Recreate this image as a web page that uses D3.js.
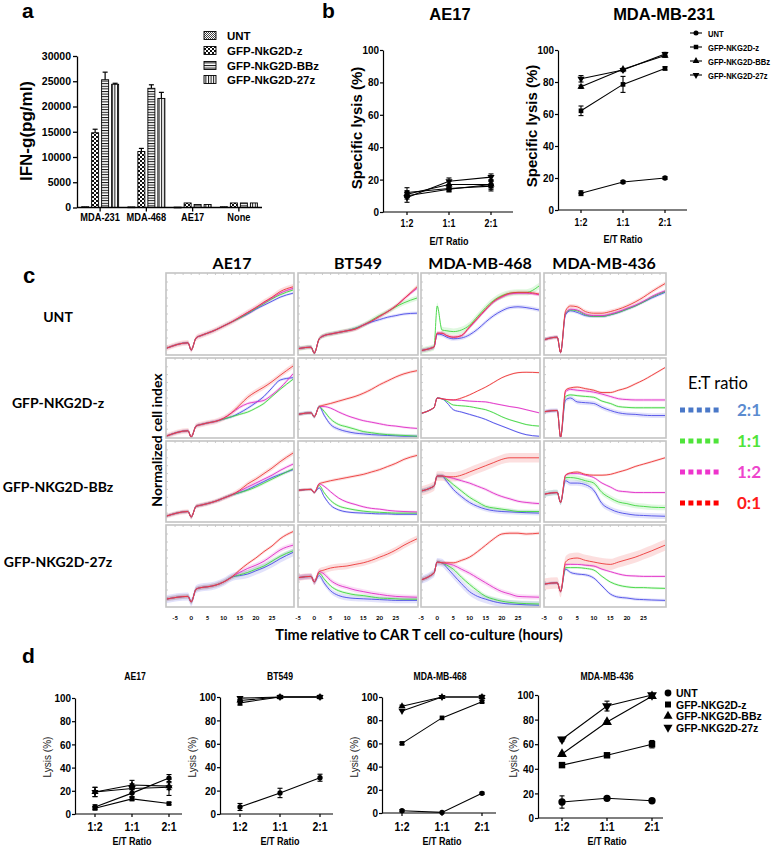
<!DOCTYPE html>
<html><head><meta charset="utf-8">
<script src="https://cdn.jsdelivr.net/npm/d3@7"></script>
<style>body{margin:0;background:#fff}svg{display:block}</style>
</head><body>
<script>
// ===================== DATA =====================
// ---- Panel a : IFN-g ----
const aCategories = ["MDA-231","MDA-468","AE17","None"];
const aSeriesNames = ["UNT","GFP-NkG2D-z","GFP-NkG2D-BBz","GFP-NkG2D-27z"];
const aUNT  = [150, 120, 80, 150];
const aZ    = [14800, 11100, 900, 900];
const aBBz  = [25300, 23600, 600, 900];
const a27z  = [24400, 21600, 600, 900];
const aZerr   = [700, 600, 0, 0];
const aBBzErr = [1500, 700, 0, 0];
const a27zErr = [200, 1200, 0, 0];
const aYTicks = [0,5000,10000,15000,20000,25000,30000];

// ---- Lysis panels (b, d) ----
const ratios = ["1:2","1:1","2:1"];
const bSeriesNames = ["UNT","GFP-NKG2D-z","GFP-NKG2D-BBz","GFP-NKG2D-27z"];
const lysisTicks = [0,20,40,60,80,100];
// b: AE17
const bAE17_UNT = [10, 14, 17],   bAE17_UNTerr = [2, 1.5, 2];
const bAE17_z   = [12, 14.5, 16], bAE17_zErr   = [3, 2, 3];
const bAE17_BBz = [11, 17, 17],   bAE17_BBzErr = [2, 2, 3];
const bAE17_27z = [9, 19, 21.5],  bAE17_27zErr = [3, 2, 2];
// b: MDA-MB-231
const b231_UNT = [10.5, 17.5, 20], b231_UNTerr = [1.5, 0.8, 0.8];
const b231_z   = [62, 78.5, 88.5], b231_zErr   = [3, 5, 1];
const b231_BBz = [77, 88, 96.5],   b231_BBzErr = [1, 0.5, 1];
const b231_27z = [82, 87.5, 97.5], b231_27zErr = [2, 1, 1];
// d: AE17
const dAE17_UNT = [6, 18, 31],  dAE17_UNTerr = [2, 3, 3];
const dAE17_z   = [5, 13, 9],   dAE17_zErr   = [1.5, 1.5, 1];
const dAE17_BBz = [19, 25, 24], dAE17_BBzErr = [4, 4, 3];
const dAE17_27z = [19, 22, 23], dAE17_27zErr = [4, 4, 7];
// d: BT549
const dBT_UNT = [6, 18, 31],    dBT_UNTerr = [3, 4, 3];
const dBT_z   = [95, 100, 100], dBT_zErr   = [2, 0, 0];
const dBT_BBz = [97, 100, 100], dBT_BBzErr = [1, 0, 0];
const dBT_27z = [99, 100, 100], dBT_27zErr = [1, 0, 0];
// d: MDA-MB-468
const d468_UNT = [2, 0.5, 17],   d468_UNTerr = [1, 0.5, 1];
const d468_z   = [60, 82, 96],   d468_zErr   = [1, 0.5, 1];
const d468_BBz = [92, 100, 100], d468_BBzErr = [1, 0, 0.5];
const d468_27z = [88, 100, 100], d468_27zErr = [0.5, 0, 1.5];
// d: MDA-MB-436
const d436_UNT = [13, 16, 14],  d436_UNTerr = [5, 1, 1];
const d436_z   = [43, 51, 60],  d436_zErr   = [1.5, 1, 3];
const d436_BBz = [52, 78, 99],  d436_BBzErr = [1, 1, 1];
const d436_27z = [64, 91, 100], d436_27zErr = [1.5, 4, 1];

// ---- Panel c : normalized cell index (arb. 0-10), series order: 2:1, 1:1, 1:2, 0:1 ----
const cCols = ["AE17","BT549","MDA-MB-468","MDA-MB-436"];
const cRows = ["UNT","GFP-NKG2D-z","GFP-NKG2D-BBz","GFP-NKG2D-27z"];
const cRatios = ["2:1","1:1","1:2","0:1"];
const cTime = [-7.8,-1,0,1.5,3,5,7.5,10,12.5,15,17.5,20,22.5,25,27.5,31.5];
const cTicks = [-5,0,5,10,15,20,25];

const cUNT_AE17 = [
 [0.7,1.4,0.5,2.0,2.3,2.6,3.0,3.5,4.0,4.5,5.0,5.6,6.1,6.6,7.1,7.6],
 [0.7,1.4,0.5,2.0,2.3,2.6,3.0,3.5,4.0,4.5,5.1,5.7,6.3,6.9,7.4,8.0],
 [0.7,1.4,0.5,2.0,2.3,2.6,3.0,3.5,4.0,4.6,5.2,5.8,6.4,7.0,7.6,8.2],
 [0.7,1.4,0.5,2.0,2.3,2.6,3.0,3.5,4.0,4.6,5.2,5.8,6.5,7.1,7.8,8.4]];
const cUNT_BT549 = [
 [0.4,0.85,0.1,1.9,2.3,2.5,2.7,2.9,3.2,3.6,4.0,4.3,4.6,4.8,5.0,5.1],
 [0.4,0.85,0.1,1.9,2.3,2.5,2.7,2.9,3.2,3.6,4.2,4.8,5.3,5.9,6.4,7.0],
 [0.4,0.85,0.1,1.9,2.3,2.5,2.7,2.9,3.1,3.6,4.1,4.7,5.3,6.0,6.9,8.2],
 [0.4,0.85,0.1,1.9,2.3,2.5,2.7,2.9,3.1,3.6,4.1,4.7,5.3,6.0,6.9,8.4]];
const cUNT_468 = [
 [0.3,0.85,2.5,2.4,2.1,1.9,2.0,2.4,3.1,4.0,4.8,5.4,5.8,5.9,5.8,5.5],
 [0.3,0.85,6.0,3.0,2.9,2.8,3.0,3.6,4.7,5.8,6.7,7.3,7.6,7.7,7.7,8.5],
 [0.3,0.85,2.6,2.6,2.3,2.1,2.3,3.3,4.4,5.5,6.5,7.1,7.5,7.6,7.6,7.4],
 [0.3,0.85,2.6,2.6,2.3,2.1,2.3,3.4,4.5,5.6,6.6,7.2,7.6,7.7,7.7,7.5]];
const cUNT_436 = [
 [1.3,2.1,0.2,4.9,5.4,5.2,4.8,4.7,4.7,4.9,5.2,5.6,6.0,6.5,7.0,7.7],
 [1.3,2.1,0.2,5.1,5.5,5.4,4.9,4.7,4.7,4.9,5.2,5.6,6.0,6.5,7.1,7.8],
 [1.3,2.1,0.2,5.1,5.6,5.5,5.0,4.8,4.8,5.0,5.3,5.7,6.1,6.6,7.2,7.9],
 [1.3,2.1,0.2,5.4,6.0,5.9,5.3,5.1,5.1,5.3,5.6,6.0,6.5,7.1,7.8,8.8]];
const cZ_AE17 = [
 [0.1,0.8,0.0,1.4,1.6,1.8,2.0,2.3,2.6,3.1,3.7,4.4,5.2,6.3,7.3,7.6],
 [0.1,0.8,0.0,1.4,1.6,1.8,2.0,2.3,2.6,2.9,3.2,3.7,4.3,5.2,6.1,7.4],
 [0.1,0.8,0.0,1.4,1.6,1.8,2.0,2.4,3.1,3.8,4.3,4.5,4.7,5.4,6.3,8.1],
 [0.1,0.8,0.0,1.4,1.6,1.8,2.0,2.4,3.1,4.1,5.1,5.8,6.4,7.1,7.9,9.1]];
const cZ_BT549 = [
 [2.6,3.1,2.6,3.9,2.8,1.6,1.0,0.7,0.5,0.4,0.3,0.25,0.2,0.15,0.1,0.1],
 [2.6,3.1,2.6,3.9,3.3,2.3,1.6,1.3,1.0,0.7,0.55,0.4,0.3,0.25,0.2,0.1],
 [2.6,3.1,2.6,3.9,3.9,3.7,3.2,2.75,2.4,2.1,1.9,1.7,1.5,1.4,1.25,1.1],
 [2.6,3.1,2.6,3.9,4.1,4.3,4.6,4.9,5.2,5.6,6.1,6.7,7.2,7.7,8.1,8.5]];
const cZ_468 = [
 [2.8,3.75,5.0,4.9,4.4,3.5,3.2,2.9,2.6,2.25,1.8,1.4,1.0,0.6,0.3,0.1],
 [2.8,3.75,5.0,4.9,4.6,4.1,4.0,3.9,3.7,3.5,3.1,2.6,2.2,1.9,1.6,1.4],
 [2.8,3.75,5.0,4.9,4.8,4.75,4.7,4.6,4.55,4.5,4.3,4.1,3.9,3.75,3.5,3.1],
 [2.8,3.75,5.0,4.9,4.8,4.75,5.0,5.4,5.9,6.4,7.0,7.6,8.0,8.25,8.3,8.25]];
const cZ_436 = [
 [3.0,3.4,0.0,4.75,5.0,4.5,4.4,4.3,3.8,3.4,3.1,2.95,2.9,2.8,2.75,2.75],
 [3.0,3.4,0.0,5.2,5.4,5.3,5.2,5.1,4.6,4.3,3.9,3.8,3.75,3.75,3.75,3.75],
 [3.0,3.4,0.0,5.8,6.1,6.0,5.9,5.75,5.5,5.2,4.9,4.8,4.75,4.75,4.75,4.75],
 [3.0,3.4,0.0,6.0,6.3,6.4,6.2,6.0,5.7,5.7,6.0,6.3,6.8,7.3,7.9,8.9]];
const cBBz_AE17 = [
 [0.6,1.2,0.5,1.85,2.0,2.2,2.5,2.9,3.3,3.6,4.0,4.5,5.0,5.5,5.9,6.5],
 [0.6,1.2,0.5,1.85,2.0,2.2,2.5,2.9,3.3,3.6,3.9,4.3,4.8,5.3,5.8,6.6],
 [0.6,1.2,0.5,1.85,2.0,2.2,2.5,2.9,3.3,3.8,4.3,4.8,5.3,5.8,6.4,7.2],
 [0.6,1.2,0.5,1.85,2.0,2.2,2.5,2.9,3.3,3.9,4.7,5.3,6.0,6.7,7.5,8.6]];
const cBBz_BT549 = [
 [3.7,4.0,3.6,4.2,3.1,2.0,1.4,1.15,1.05,1.0,0.95,0.9,0.9,0.85,0.85,0.85],
 [3.7,4.0,3.6,4.5,3.6,2.6,1.9,1.6,1.4,1.25,1.15,1.1,1.05,1.0,1.0,1.0],
 [3.7,4.0,3.6,4.7,4.4,3.7,2.9,2.4,2.1,1.8,1.6,1.5,1.35,1.25,1.2,1.15],
 [3.7,4.0,3.6,4.7,4.9,5.1,5.3,5.5,5.7,5.9,6.2,6.5,6.9,7.3,7.8,8.3]];
const cBBz_468 = [
 [3.6,4.4,5.7,5.7,5.0,4.0,3.1,2.35,1.85,1.5,1.3,1.2,1.15,1.1,1.05,1.0],
 [3.6,4.4,5.7,5.7,5.3,4.6,3.8,3.0,2.4,1.85,1.65,1.5,1.35,1.2,1.2,1.2],
 [3.6,4.4,5.7,5.7,5.6,5.4,5.1,4.8,4.4,4.0,3.5,3.1,2.8,2.5,2.35,2.2],
 [3.6,4.4,5.7,5.7,5.6,5.6,5.8,6.2,6.6,7.0,7.4,7.8,8.0,8.0,8.0,8.0]];
const cBBz_436 = [
 [3.1,3.6,2.35,5.1,4.8,4.8,4.6,3.9,2.2,1.5,1.1,0.9,0.75,0.7,0.65,0.6],
 [3.1,3.6,2.35,5.5,5.5,5.4,5.1,4.8,3.6,2.9,2.4,2.2,1.95,1.85,1.75,1.7],
 [3.1,3.6,2.35,5.8,6.0,6.0,5.8,5.5,4.8,4.3,3.8,3.7,3.6,3.6,3.6,3.6],
 [3.1,3.6,2.35,5.8,6.1,6.2,5.9,5.8,5.8,5.9,6.2,6.5,6.9,7.2,7.5,8.0]];
const c27z_AE17 = [
 [0.85,1.2,0.5,2.1,2.3,2.4,2.6,3.0,3.6,3.8,4.0,4.4,4.8,5.3,5.9,6.7],
 [0.85,1.2,0.5,2.1,2.3,2.4,2.6,3.0,3.6,3.9,4.2,4.6,5.0,5.6,6.2,6.9],
 [0.85,1.2,0.5,2.1,2.3,2.4,2.6,3.0,3.6,4.2,4.7,5.1,5.6,6.3,7.0,7.6],
 [0.85,1.2,0.5,2.1,2.3,2.4,2.6,3.0,3.6,4.5,5.3,6.0,6.8,7.5,8.4,9.3]];
const c27z_BT549 = [
 [3.3,3.7,3.0,3.8,2.9,1.9,1.3,1.05,0.95,0.9,0.85,0.8,0.75,0.7,0.7,0.7],
 [3.3,3.7,3.0,4.1,3.4,2.5,1.9,1.6,1.4,1.3,1.15,1.0,0.95,0.9,0.85,0.85],
 [3.3,3.7,3.0,4.3,4.0,3.2,2.6,2.3,2.0,1.8,1.6,1.45,1.3,1.2,1.15,1.1],
 [3.3,3.7,3.0,4.3,4.5,4.75,4.9,5.0,5.2,5.4,5.7,6.1,6.5,7.0,7.6,8.4]];
const c27z_468 = [
 [3.0,4.1,5.5,5.4,4.8,3.9,2.8,1.8,1.2,0.85,0.55,0.35,0.25,0.2,0.15,0.1],
 [3.0,4.1,5.5,5.4,5.1,4.6,3.6,2.7,1.9,1.2,0.85,0.6,0.45,0.35,0.3,0.25],
 [3.0,4.1,5.5,5.4,5.3,5.1,4.6,4.1,3.5,2.9,2.3,1.8,1.5,1.2,1.15,1.1],
 [3.0,4.1,5.5,5.4,5.4,5.4,5.7,6.1,6.8,7.6,8.4,9.0,9.1,9.1,9.0,9.1]];
const c27z_436 = [
 [2.5,2.9,1.8,4.6,4.2,4.0,3.9,3.5,2.5,1.5,1.1,1.0,0.85,0.8,0.75,0.7],
 [2.5,2.9,1.8,4.8,4.8,4.8,4.7,4.5,3.7,3.0,2.6,2.4,2.3,2.3,2.25,2.2],
 [2.5,2.9,1.8,5.2,5.2,5.2,5.1,5.0,4.6,4.3,4.0,3.8,3.75,3.7,3.7,3.7],
 [2.5,2.9,1.8,5.5,5.9,6.0,5.7,5.5,5.3,5.2,5.5,5.8,6.1,6.5,6.9,7.6]];
// band half-widths per panel [2:1, 1:1, 1:2, 0:1]
const cErrUNT  = [[0.15,0.15,0.2,0.35],[0.2,0.3,0.2,0.25],[0.25,0.4,0.2,0.25],[0.2,0.15,0.2,0.25]];
const cErrZ    = [[0.2,0.15,0.2,0.35],[0.25,0.2,0.15,0.2],[0.1,0.1,0.1,0.1],[0.3,0.15,0.2,0.15]];
const cErrBBz  = [[0.2,0.2,0.2,0.3],[0.15,0.15,0.15,0.2],[0.3,0.25,0.2,0.6],[0.35,0.35,0.15,0.15]];
const cErr27z  = [[0.5,0.3,0.3,0.2],[0.35,0.2,0.3,0.4],[0.5,0.3,0.3,0.2],[0.2,0.15,0.15,0.7]];

// ===================== DRAW =====================
const FA = "'Liberation Sans', Arial, sans-serif";
const FC = "Lato, 'Open Sans', sans-serif";
const svg = d3.select("body").append("svg").attr("width",778).attr("height",845)
  .attr("font-family", FA);
const defs = svg.append("defs");

// condense text horizontally (narrow typeface look) for axis labels
function narrow(sel, f) {
  sel.each(function () {
    const w = this.getComputedTextLength();
    d3.select(this).attr("textLength", w * f).attr("lengthAdjust", "spacingAndGlyphs");
  });
  return sel;
}
function txt(x, y, s, size, opts = {}) {
  const sx = opts.scaleX || 1;
  const tr = `translate(${x},${y})` + (opts.rotate ? " rotate(-90)" : "") + (sx !== 1 ? ` scale(${sx},1)` : "");
  return svg.append("text").attr("x", 0).attr("y", 0).attr("transform", tr).text(s)
    .attr("font-size", size).attr("font-weight", opts.weight || "bold")
    .attr("font-family", opts.family || FA)
    .attr("text-anchor", opts.anchor || "start")
    .attr("fill", opts.fill || "#000");
}

// ---------- patterns (panel a) ----------
function pattern(id, w, h, build) {
  const p = defs.append("pattern").attr("id", id).attr("patternUnits","userSpaceOnUse")
    .attr("width", w).attr("height", h);
  p.append("rect").attr("width", w).attr("height", h).attr("fill", "#fff");
  build(p);
}
pattern("pUNT", 2, 2, p => {
  p.append("rect").attr("width",1).attr("height",1).attr("fill","#444");
  p.append("rect").attr("x",1).attr("y",1).attr("width",1).attr("height",1).attr("fill","#444");
});
pattern("pZ", 4, 4, p => {
  p.append("rect").attr("width",2).attr("height",2).attr("fill","#111");
  p.append("rect").attr("x",2).attr("y",2).attr("width",2).attr("height",2).attr("fill","#111");
});
pattern("pBBz", 3, 2.6, p => p.append("rect").attr("width",3).attr("height",1).attr("fill","#111"));
pattern("p27z", 2.6, 3, p => p.append("rect").attr("width",1).attr("height",3).attr("fill","#111"));
const aPatterns = ["url(#pUNT)","url(#pZ)","url(#pBBz)","url(#p27z)"];

// ---------- Panel a ----------
txt(22, 18, "a", 21);
const aX0 = d3.scaleBand().domain(aCategories).range([77, 262]).paddingInner(0.2).paddingOuter(0.1);
const aX1 = d3.scaleBand().domain(aSeriesNames).range([0, aX0.bandwidth()]).paddingInner(0.3);
const aY = d3.scaleLinear().domain([0, 30000]).range([207.5, 56]);
const aVals = [aUNT, aZ, aBBz, a27z];
const aErrs = [[0,0,0,0], aZerr, aBBzErr, a27zErr];
const ag = svg.append("g");
aSeriesNames.forEach((s, i) => {
  aCategories.forEach((c, j) => {
    const v = aVals[i][j], e = aErrs[i][j];
    const x = aX0(c) + aX1(s), w = aX1.bandwidth();
    ag.append("rect").attr("x", x).attr("y", aY(v)).attr("width", w)
      .attr("height", Math.max(0.8, aY(0) - aY(v)))
      .attr("fill", aPatterns[i]).attr("stroke", "#000").attr("stroke-width", 0.9);
    if (e > 0) {
      const cx = x + w / 2;
      ag.append("line").attr("x1", cx).attr("x2", cx).attr("y1", aY(v)).attr("y2", aY(v + e)).attr("stroke","#000").attr("stroke-width",1.2);
      ag.append("line").attr("x1", cx - 2.5).attr("x2", cx + 2.5).attr("y1", aY(v + e)).attr("y2", aY(v + e)).attr("stroke","#000").attr("stroke-width",1.2);
    }
  });
});
const aYAxis = svg.append("g").attr("transform","translate(77,0)")
  .call(d3.axisLeft(aY).tickValues(aYTicks).tickSize(4).tickSizeOuter(0).tickPadding(2).tickFormat(d3.format("d")));
aYAxis.selectAll("text").attr("font-size", 10.5).attr("font-weight","bold").attr("font-family", FA).attr("fill","#000");
aYAxis.selectAll("path,line").attr("stroke","#000").attr("stroke-width",1.3);
const aXAxis = svg.append("g").attr("transform","translate(0,207.5)")
  .call(d3.axisBottom(aX0).tickSize(4).tickSizeOuter(0).tickPadding(2));
aXAxis.select(".domain").attr("d", "M77,0H262");
aXAxis.selectAll("text").attr("font-size", 10.5).attr("font-weight","bold").attr("font-family", FA).attr("fill","#000");
narrow(aXAxis.selectAll("text"), 0.88);
aXAxis.selectAll("path,line").attr("stroke","#000").attr("stroke-width",1.3);
txt(32, 131, "IFN-g(pg/ml)", 17, {anchor:"middle", rotate:true});
// legend a
const aLegY = [36, 51, 66, 80];
aSeriesNames.forEach((s, i) => {
  svg.append("rect").attr("x", 204).attr("y", aLegY[i] - 4.5).attr("width", 12).attr("height", 8)
    .attr("fill", aPatterns[i]).attr("stroke", "#000").attr("stroke-width", 0.9);
  txt(227, aLegY[i] + 4, s, 11.5);
});

// ---------- Lysis chart helper (b, d) ----------
const symbols = [d3.symbolCircle, d3.symbolSquare, d3.symbolTriangle, d3.symbolTriangle];
function marker(g, x, y, i, size) {
  g.append("path").attr("d", d3.symbol(symbols[i], size)())
    .attr("transform", `translate(${x},${y})${i === 3 ? " rotate(180)" : ""}`)
    .attr("fill", "#000");
}
function lysisPlot(cfg) {
  const g = svg.append("g");
  const y = d3.scaleLinear().domain([0, 100]).range([cfg.y0, cfg.y100]);
  const x = d3.scalePoint().domain(ratios).range(cfg.xr);
  const ya = g.append("g").attr("transform", `translate(${cfg.ax},0)`)
    .call(d3.axisLeft(y).tickValues(lysisTicks).tickSize(3).tickSizeOuter(0).tickPadding(1));
  ya.selectAll("text").attr("font-size", cfg.yfs).attr("font-weight","bold").attr("font-family", FA).attr("fill","#000");
  narrow(ya.selectAll("text"), cfg.yn);
  ya.selectAll("path,line").attr("stroke","#000").attr("stroke-width",1.2);
  g.append("line").attr("x1", cfg.ax).attr("x2", cfg.xEnd).attr("y1", cfg.y0).attr("y2", cfg.y0)
    .attr("stroke","#000").attr("stroke-width",1.2);
  ratios.forEach(r => {
    g.append("line").attr("x1", x(r)).attr("x2", x(r)).attr("y1", cfg.y0).attr("y2", cfg.y0 + 3)
      .attr("stroke","#000").attr("stroke-width",1.2);
    const t = g.append("text").attr("x", x(r)).attr("y", cfg.xlabY).attr("text-anchor","middle").text(r)
      .attr("font-size", cfg.xfs).attr("font-weight","bold").attr("font-family", FA);
    narrow(t, 0.84);
  });
  const et = g.append("text").attr("x", (cfg.xr[0] + cfg.xr[1]) / 2).attr("y", cfg.etY).attr("text-anchor","middle")
    .text("E/T Ratio").attr("font-size", cfg.etfs).attr("font-weight","bold").attr("font-family", FA);
  narrow(et, 0.86);
  const line = d3.line().x((d, k) => x(ratios[k])).y(d => y(d));
  cfg.series.forEach((s, i) => {
    g.append("path").attr("d", line(s.v)).attr("fill","none").attr("stroke", "#000").attr("stroke-width", 1.1);
  });
  cfg.series.forEach((s, i) => {
    s.v.forEach((v, k) => {
      const e = s.e[k], cx = x(ratios[k]);
      if (e > 0.6) {
        g.append("line").attr("x1", cx).attr("x2", cx).attr("y1", y(Math.max(0, v - e))).attr("y2", y(v + e)).attr("stroke","#000").attr("stroke-width",1.1);
        [v - e, v + e].forEach(b => g.append("line").attr("x1", cx - 2.5).attr("x2", cx + 2.5)
          .attr("y1", y(Math.max(0, b))).attr("y2", y(Math.max(0, b))).attr("stroke","#000").attr("stroke-width",1.1));
      }
      marker(g, cx, y(v), i, cfg.ms);
    });
  });
}

// ---------- Panel b ----------
txt(322, 18, "b", 21);
txt(450, 20, "AE17", 16.5, {anchor:"middle"});
txt(664, 20, "MDA-MB-231", 16.5, {anchor:"middle"});
const bCommon = {yfs: 11, yn: 0.9, xfs: 10.5, etfs: 10.5, ms: 22};
lysisPlot(Object.assign({}, bCommon, {ax: 383, y0: 212, y100: 50, xr: [407, 491], xEnd: 513, xlabY: 227, etY: 245,
  series: [{v:bAE17_UNT,e:bAE17_UNTerr},{v:bAE17_z,e:bAE17_zErr},{v:bAE17_BBz,e:bAE17_BBzErr},{v:bAE17_27z,e:bAE17_27zErr}]}));
lysisPlot(Object.assign({}, bCommon, {ax: 558, y0: 210, y100: 50, xr: [581, 665], xEnd: 687, xlabY: 226, etY: 243,
  series: [{v:b231_UNT,e:b231_UNTerr},{v:b231_z,e:b231_zErr},{v:b231_BBz,e:b231_BBzErr},{v:b231_27z,e:b231_27zErr}]}));
txt(362, 128, "Specific lysis (%)", 15, {anchor:"middle", rotate:true});
txt(537, 126, "Specific lysis (%)", 15, {anchor:"middle", rotate:true});
const bLegY = [33, 47, 61, 75];
bSeriesNames.forEach((s, i) => {
  svg.append("line").attr("x1", 690).attr("x2", 702).attr("y1", bLegY[i]).attr("y2", bLegY[i]).attr("stroke","#000").attr("stroke-width",1.1);
  marker(svg, 696, bLegY[i], i, 20);
  txt(708, bLegY[i] + 3.5, s, 9.5, {scaleX: 0.8});
});

// ---------- Panel c ----------
txt(23, 283, "c", 22);
const cColX0 = [166, 298, 421, 544], cColX1 = [294, 418, 540, 666];
const cRowY0 = [273, 358, 441, 525], cRowY1 = [355, 438, 522, 607];
const cColTitleX = [232, 358, 480, 604];
const cRowLabelY = [322, 408, 492, 567];
const cColors = ["#4b4be8", "#3fd63f", "#e02cc6", "#ec3838"];
const cPanels = [
  [cUNT_AE17, cUNT_BT549, cUNT_468, cUNT_436],
  [cZ_AE17, cZ_BT549, cZ_468, cZ_436],
  [cBBz_AE17, cBBz_BT549, cBBz_468, cBBz_436],
  [c27z_AE17, c27z_BT549, c27z_468, c27z_436]];
const cErrs = [cErrUNT, cErrZ, cErrBBz, cErr27z];
cCols.forEach((c, j) => txt(cColTitleX[j], 269, c, 16, {family: FC, anchor:"middle"}));
cRows.forEach((r, i) => txt(58, cRowLabelY[i], r, 14, {family: FC, anchor:"middle"}));
txt(162, 440, "Normalized cell index", 14, {family: FC, anchor:"middle", rotate:true});
txt(419, 640, "Time relative to CAR T cell co-culture (hours)", 14.5, {family: FC, anchor:"middle"});
cRows.forEach((r, i) => {
  cCols.forEach((c, j) => {
    const x0 = cColX0[j], x1 = cColX1[j], y0 = cRowY0[i], y1 = cRowY1[i];
    const xs = d3.scaleLinear().domain([j === 0 ? -7.8 : -5, 31.8]).range([x0, x1]);
    const ys = d3.scaleLinear().domain([0, 10]).range([y1 - 1, y0 + 1]);
    const id = `clip${i}${j}`;
    defs.append("clipPath").attr("id", id).append("rect").attr("x", x0).attr("y", y0).attr("width", x1 - x0).attr("height", y1 - y0);
    const g = svg.append("g");
    g.append("rect").attr("x", x0).attr("y", y0).attr("width", x1 - x0).attr("height", y1 - y0).attr("fill","#fff");
    d3.range(-5, 31, 2.5).forEach(t => {
      if (xs(t) > x0 + 1) g.append("line").attr("x1", xs(t)).attr("x2", xs(t)).attr("y1", y0).attr("y2", y0 + 2).attr("stroke","#aaa").attr("stroke-width",0.6);
    });
    d3.range(1, 10, 1).forEach(v => {
      g.append("line").attr("x1", x0).attr("x2", x0 + 2).attr("y1", ys(v)).attr("y2", ys(v)).attr("stroke","#aaa").attr("stroke-width",0.6);
    });
    const pg = g.append("g").attr("clip-path", `url(#${id})`);
    const series = cPanels[i][j], errs = cErrs[i][j];
    series.forEach((vals, k) => {
      const e = errs[k];
      const area = d3.area().x((d, n) => xs(cTime[n])).y0(d => ys(d - e)).y1(d => ys(d + e)).curve(d3.curveMonotoneX);
      pg.append("path").attr("d", area(vals)).attr("fill", cColors[k]).attr("fill-opacity", 0.16);
    });
    series.forEach((vals, k) => {
      const line = d3.line().x((d, n) => xs(cTime[n])).y(d => ys(d)).curve(d3.curveMonotoneX);
      pg.append("path").attr("d", line(vals)).attr("fill","none").attr("stroke", cColors[k]).attr("stroke-width", 0.9);
    });
    g.append("rect").attr("x", x0).attr("y", y0).attr("width", x1 - x0).attr("height", y1 - y0)
      .attr("fill","none").attr("stroke","#c4c4c4").attr("stroke-width",1.6);
    if (i === 3) {
      cTicks.forEach(t => {
        g.append("text").attr("x", xs(t)).attr("y", 620).attr("text-anchor","middle").text(t)
          .attr("font-size", 6).attr("font-weight","bold").attr("font-family", FC);
      });
    }
  });
});
// legend c
txt(688, 389, "E:T ratio", 16.5, {family: FC, weight: "normal"});
const cLegY = [410, 441, 472, 503];
const cLegTextColors = ["#5b8bd0", "#4fe43a", "#ee44cc", "#ff1a1a"];
const cLegMarkColors = ["#4a78c8", "#4fe43a", "#ee33cc", "#ff0000"];
cRatios.forEach((r, k) => {
  d3.range(5).forEach(m => svg.append("rect").attr("x", 680 + m * 8.4).attr("y", cLegY[k] - 2.5)
    .attr("width", 5).attr("height", 5).attr("fill", cLegMarkColors[k]));
  txt(737, cLegY[k] + 6, r, 17, {family: FC, fill: cLegTextColors[k]});
});

// ---------- Panel d ----------
txt(22, 663, "d", 21);
const dTitles = ["AE17","BT549","MDA-MB-468","MDA-MB-436"];
const dTitleX = [135, 280, 440, 607];
dTitles.forEach((t, i) => txt(dTitleX[i], 680, t, 10.5, {anchor:"middle", scaleX: 0.82}));
const dCommon = {yfs: 11.5, yn: 0.86, xfs: 12.5, etfs: 10.5, xlabY: 831, etY: 844.5};
lysisPlot(Object.assign({}, dCommon, {ax: 75, y0: 814, y100: 698, xr: [95, 169], xEnd: 182, ms: 22,
  series: [{v:dAE17_UNT,e:dAE17_UNTerr},{v:dAE17_z,e:dAE17_zErr},{v:dAE17_BBz,e:dAE17_BBzErr},{v:dAE17_27z,e:dAE17_27zErr}]}));
lysisPlot(Object.assign({}, dCommon, {ax: 220, y0: 814, y100: 697, xr: [240, 320], xEnd: 333, ms: 22,
  series: [{v:dBT_UNT,e:dBT_UNTerr},{v:dBT_z,e:dBT_zErr},{v:dBT_BBz,e:dBT_BBzErr},{v:dBT_27z,e:dBT_27zErr}]}));
lysisPlot(Object.assign({}, dCommon, {ax: 382, y0: 813, y100: 697, xr: [402, 482], xEnd: 496, ms: 22,
  series: [{v:d468_UNT,e:d468_UNTerr},{v:d468_z,e:d468_zErr},{v:d468_BBz,e:d468_BBzErr},{v:d468_27z,e:d468_27zErr}]}));
lysisPlot(Object.assign({}, dCommon, {ax: 538, y0: 818, y100: 695, xr: [562, 652], xEnd: 663, ms: 42,
  series: [{v:d436_UNT,e:d436_UNTerr},{v:d436_z,e:d436_zErr},{v:d436_BBz,e:d436_BBzErr},{v:d436_27z,e:d436_27zErr}]}));
[51, 196, 358, 517].forEach(x => txt(x, 757, "Lysis (%)", 10, {weight:"normal", anchor:"middle", rotate:true, fill:"#222"}));
const dLegY = [693, 704.5, 716, 727.5];
bSeriesNames.forEach((s, i) => {
  marker(svg, 668, dLegY[i], i, 36);
  txt(676, dLegY[i] + 4, s, 10.5);
});
</script>
</body></html>
